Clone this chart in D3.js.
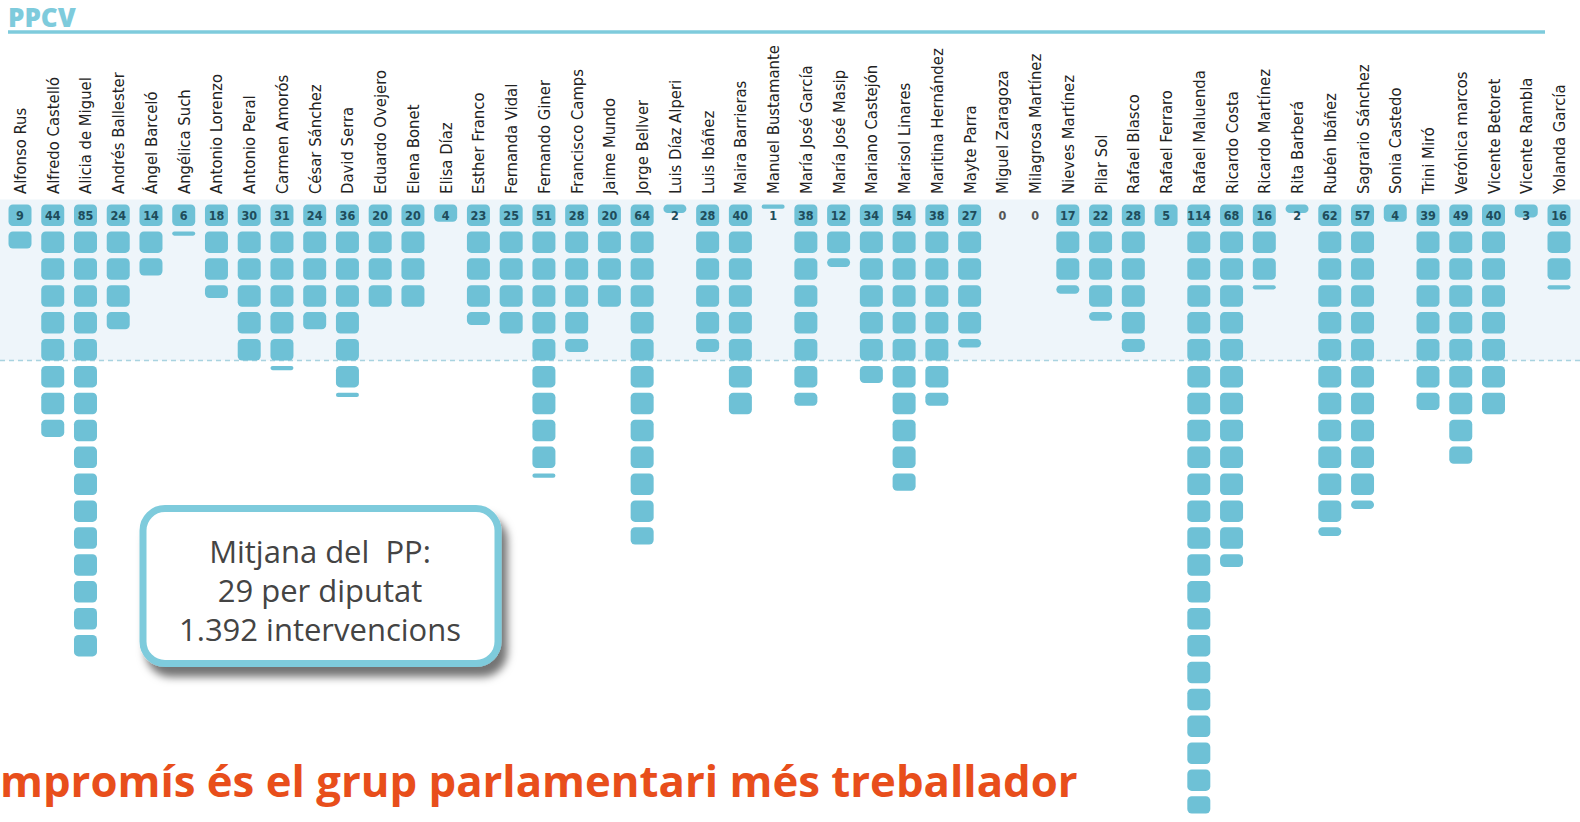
<!DOCTYPE html>
<html>
<head>
<meta charset="utf-8">
<script src="https://cdn.jsdelivr.net/npm/d3@7"></script>
<style>
  html, body { margin: 0; padding: 0; background: #ffffff; overflow: hidden; }
  svg { display: block; }
</style>
</head>
<body>
<svg id="chart" width="1580" height="822"></svg>
<script>
// ---------- DATA ----------
const groupTitle = "PPCV";
const deputies = [
  "Alfonso Rus", "Alfredo Castelló", "Alicia de Miguel", "Andrés Ballester", "Ángel Barceló",
  "Angélica Such", "Antonio Lorenzo", "Antonio Peral", "Carmen Amorós", "César Sánchez",
  "David Serra", "Eduardo Ovejero", "Elena Bonet", "Elisa Díaz", "Esther Franco",
  "Fernanda Vidal", "Fernando Giner", "Francisco Camps", "Jaime Mundo", "Jorge Bellver",
  "Luis Díaz Alperi", "Luis Ibáñez", "Maira Barrieras", "Manuel Bustamante", "María José García",
  "María José Masip", "Mariano Castejón", "Marisol Linares", "Maritina Hernández", "Mayte Parra",
  "Miguel Zaragoza", "Milagrosa Martínez", "Nieves Martínez", "Pilar Sol", "Rafael Blasco",
  "Rafael Ferraro", "Rafael Maluenda", "Ricardo Costa", "Ricardo Martínez", "Rita Barberá",
  "Rubén Ibáñez", "Sagrario Sánchez", "Sonia Castedo", "Trini Miró", "Verónica marcos",
  "Vicente Betoret", "Vicente Rambla", "Yolanda García"
];
const interventions = [
  9, 44, 85, 24, 14,
  6, 18, 30, 31, 24,
  36, 20, 20, 4, 23,
  25, 51, 28, 20, 64,
  2, 28, 40, 1, 38,
  12, 34, 54, 38, 27,
  0, 0, 17, 22, 28,
  5, 114, 68, 16, 2,
  62, 57, 4, 39, 49,
  40, 3, 16
];
const perBlock = 5;          // each block = 5 interventions
const partyMean = 29;
const noteLines = ["Mitjana del  PP:", "29 per diputat", "1.392 intervencions"];
const footerTitle = "mpromís és el grup parlamentari més treballador";

// ---------- LAYOUT ----------
const W = 1580, H = 822;
const svg = d3.select("#chart");

const x = d3.scalePoint().domain(deputies).range([20, 1559]);
const y = d3.scaleLinear().domain([0, perBlock]).range([204.5, 231.4]); // one block pitch
const blockW = 23, blockH = 21.5;

const blockFill = "#6ec1d6";
const teal = "#7ecbdc";

// mean band
svg.append("rect")
  .attr("x", 0).attr("y", y(0) - 5)
  .attr("width", W).attr("height", y(partyMean) - y(0) + 5)
  .attr("fill", "#eef5fa");

// header
svg.append("text")
  .attr("x", 8).attr("y", 27)
  .attr("font-family", "'Open Sans', Lato, sans-serif")
  .attr("font-weight", 800).attr("font-size", 26)
  .attr("fill", teal)
  .text(groupTitle);
svg.append("line")
  .attr("x1", 8).attr("x2", 1545).attr("y1", 32).attr("y2", 32)
  .attr("stroke", teal).attr("stroke-width", 3.5);

// mean dashed line
svg.append("line")
  .attr("x1", 0).attr("x2", W)
  .attr("y1", y(partyMean)).attr("y2", y(partyMean))
  .attr("stroke", "#a9d3e0").attr("stroke-width", 1.6)
  .attr("stroke-dasharray", "5,4");

// build block data
const blocks = [];
deputies.forEach((name, i) => {
  const v = interventions[i];
  const n = v / perBlock;
  for (let k = 0; k < Math.ceil(n - 1e-9); k++) {
    blocks.push({ name, k, frac: Math.min(1, n - k) });
  }
});

svg.append("g").selectAll("rect")
  .data(blocks)
  .join("rect")
  .attr("x", d => x(d.name) - blockW / 2)
  .attr("y", d => y(d.k * perBlock))
  .attr("width", blockW)
  .attr("height", d => Math.max(2.5, blockH * d.frac))
  .attr("rx", d => Math.min(4.5, blockH * d.frac / 2))
  .attr("fill", blockFill);

// numbers
svg.append("g").selectAll("text")
  .data(deputies)
  .join("text")
  .attr("x", d => x(d))
  .attr("y", y(0) + 15)
  .attr("text-anchor", "middle")
  .attr("font-family", "'DejaVu Sans Condensed', sans-serif")
  .attr("font-weight", 700)
  .attr("font-size", 12.5)
  .attr("fill", (d, i) => interventions[i] === 0 ? "#555" : "#1e4c5b")
  .text((d, i) => interventions[i]);

// names
svg.append("g").selectAll("text")
  .data(deputies)
  .join("text")
  .attr("transform", d => `translate(${x(d) + 6},194) rotate(-90)`)
  .attr("text-anchor", "start")
  .attr("font-family", "'DejaVu Sans Condensed', sans-serif")
  .attr("font-size", 16.5)
  .attr("fill", "#222")
  .text(d => d);

// note box
const defs = svg.append("defs");
const f = defs.append("filter").attr("id", "shadow")
  .attr("x", "-10%").attr("y", "-10%").attr("width", "130%").attr("height", "140%");
f.append("feDropShadow")
  .attr("dx", 6).attr("dy", 10).attr("stdDeviation", 4)
  .attr("flood-color", "#000").attr("flood-opacity", 0.55);

const note = svg.append("g");
note.append("rect")
  .attr("x", 143).attr("y", 508.5).attr("width", 355).attr("height", 155)
  .attr("rx", 22).attr("ry", 22)
  .attr("fill", "#fff").attr("stroke", teal).attr("stroke-width", 7)
  .attr("filter", "url(#shadow)");
note.selectAll("text")
  .data(noteLines)
  .join("text")
  .attr("x", 320)
  .attr("y", (d, i) => 563 + i * 39)
  .attr("text-anchor", "middle")
  .attr("font-family", "'Open Sans', Roboto, sans-serif")
  .attr("font-size", 28)
  .attr("fill", "#444")
  .attr("xml:space", "preserve")
  .style("white-space", "pre")
  .text(d => d);
(function () {
  const nodes = note.selectAll("text").nodes();
  const w = nodes[2].getComputedTextLength();
  const fs = 28 * 282 / w;
  note.selectAll("text").attr("font-size", Math.max(26, Math.min(31, fs)));
})();

// footer title
const footer = svg.append("text")
  .attr("x", 0).attr("y", 797)
  .attr("font-family", "'Open Sans', Lato, sans-serif")
  .attr("font-weight", 700)
  .attr("font-size", 46)
  .attr("fill", "#e84e1b")
  .text(footerTitle);
(function () {
  const w = footer.node().getComputedTextLength();
  footer.attr("font-size", 46 * 1078 / w);
})();
</script>
</body>
</html>
